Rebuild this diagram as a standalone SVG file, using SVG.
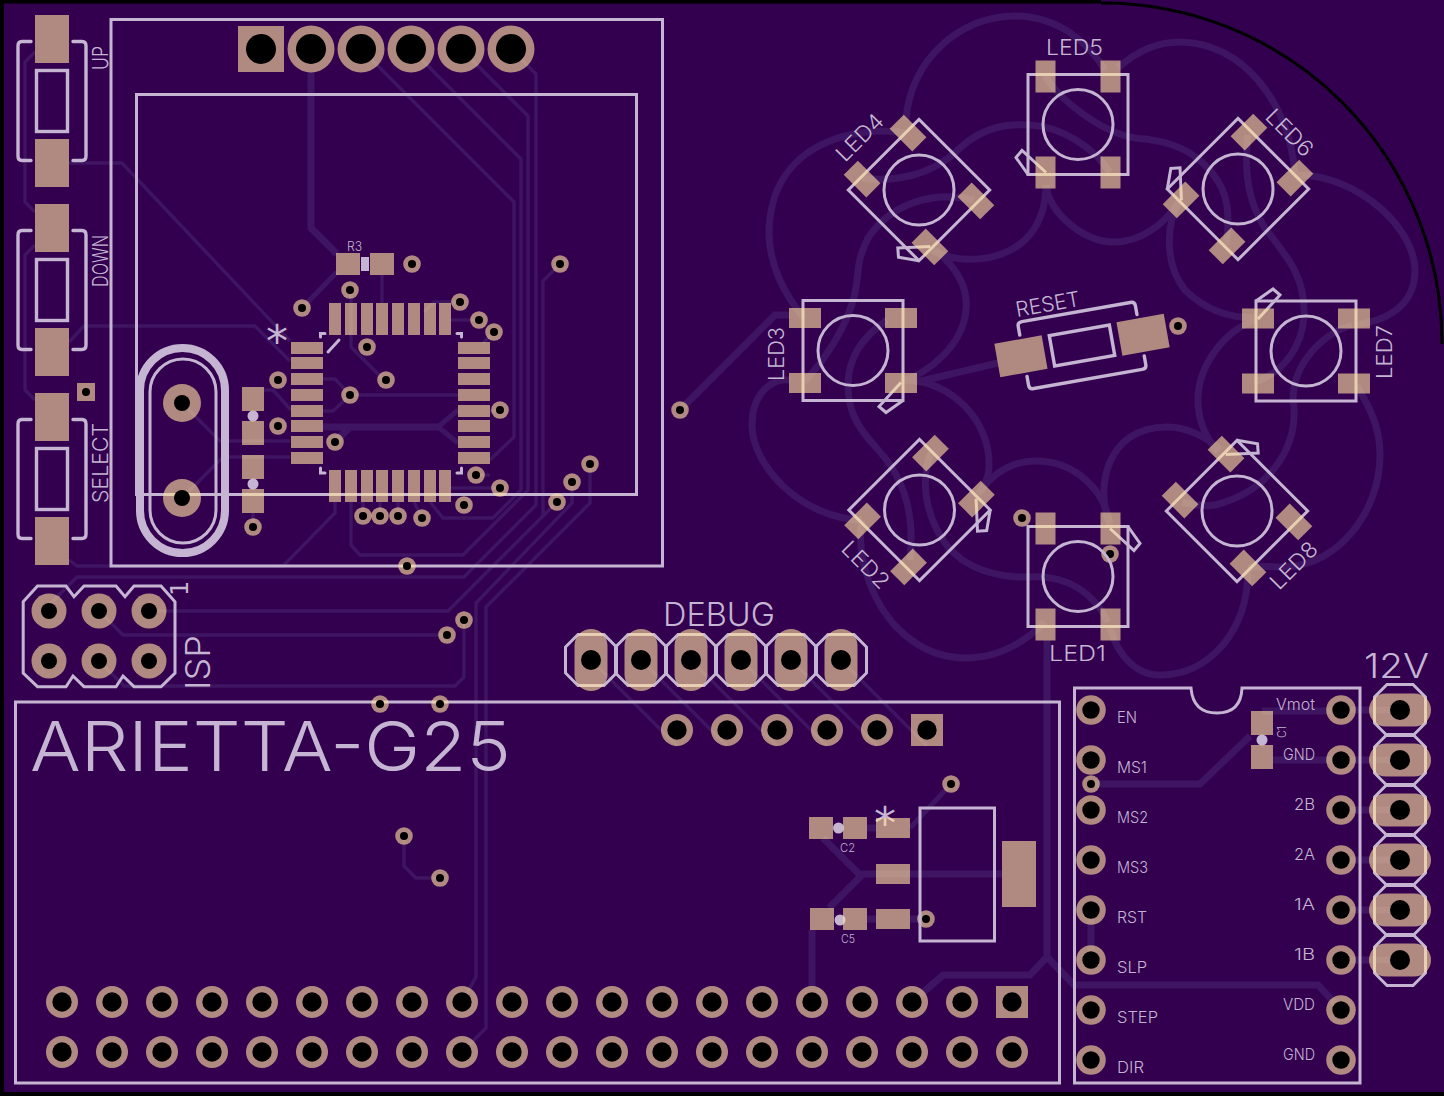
<svg xmlns="http://www.w3.org/2000/svg" xmlns:xlink="http://www.w3.org/1999/xlink" width="1444" height="1096" viewBox="0 0 1444 1096">
<style>
.p{fill:#fdde9e;fill-opacity:.62}
.d{fill:#000}
.s{fill:none;stroke:#c5b5d3;stroke-width:3}
.sf{fill:#c5b5d3}
.tr{fill:none;stroke:#3f1462;stroke-width:3.4}
.tm{fill:none;stroke:#3f1462;stroke-width:5}
.tk{fill:none;stroke:#3f1462;stroke-width:7}
text{font-family:"Inter","Liberation Sans",sans-serif;font-weight:300;fill:#c5b5d3}
.m{font-family:"DejaVu Sans",sans-serif;font-weight:400}
.f16{font-size:16px}.f22{font-size:22px}.f12{font-size:12px}
</style>
<defs>
<g id="v"><circle r="8.8" class="p"/><circle r="4" class="d"/></g>
<g id="pa"><circle r="16" class="p"/><circle r="9.7" class="d"/></g>
<g id="pm"><circle r="14.8" class="p"/><circle r="8.7" class="d"/></g>
<g id="pi"><circle r="17.5" class="p"/><circle r="8" class="d"/></g>
<g id="ph"><circle r="23.5" class="p"/><circle r="15" class="d"/></g>
<rect id="qv" width="12" height="32" class="p"/>
<rect id="qh" width="32" height="12" class="p"/>
<polygon id="oct" class="s" points="-25.5,-13 -13,-25.5 13,-25.5 25.5,-13 25.5,13 13,25.5 -13,25.5 -25.5,13"/>
<g id="sw">
<path class="s" stroke-linecap="round" style="stroke-width:3.4" d="M-21,-59.5H-30Q-34,-59.5 -34,-55V55Q-34,59.5 -30,59.5H-21M21,-59.5H30Q34,-59.5 34,-55V55Q34,59.5 30,59.5H21"/>
<rect class="s" style="stroke-width:3.4" x="-15.5" y="-30.5" width="31" height="61"/>
<rect class="p" x="-17" y="-86" width="34" height="48"/>
<rect class="p" x="-17" y="38" width="34" height="48"/>
</g>
<g id="led">
<rect class="s" x="-50" y="-50" width="100" height="100"/>
<circle class="s" r="35"/>
<path class="s" d="M-50,50L-62,33L-56,26L-32,48"/>
<rect class="p" x="-42.5" y="-64" width="20" height="32"/>
<rect class="p" x="22.5" y="-64" width="20" height="32"/>
<rect class="p" x="-42.5" y="32" width="20" height="32"/>
<rect class="p" x="22.5" y="32" width="20" height="32"/>
</g>
</defs>
<rect id="board" width="1444" height="1096" fill="#32004f"/>
<path id="outline" fill="none" stroke="#000" d="M0,1.5H1101M2,0V1096M0,1094H1444" stroke-width="4"/>
<path id="outline-arc" fill="none" stroke="#000" stroke-width="3" d="M1101,3A340,340 0 0 1 1442,344"/>

<g id="connectors">
<path class="tr" d="M35,52L25,62V202L35,212M35,245L25,255V390L35,400"/>
<path class="tr" d="M69,163H122L290,341M69,342L84,326H255L290,361"/>
<path class="tk" d="M311,72V228L337,254"/>
<path class="tm" d="M337,272L302,308"/>
<path class="tr" d="M361,49L514,202V437L490,460"/>
<path class="tr" d="M411,49L521,159V490L493,518H443L430,502"/>
<path class="tr" d="M461,49L528,116V490L463,555H360L351,545V502"/>
<path class="tr" d="M511,49L536,74V505L464,577H77L49,605"/>
<path class="tr" d="M560,264L543,281V516"/>
<path class="tr" d="M557,502L448,611H149"/>
<path class="tr" d="M590,464V503L486,607V1028L462,1052"/>
<path class="tr" d="M572,482V503L476,603V977L462,1002"/>
<path class="tr" d="M99,661L124,686H455L464,677V620M447,635H123L99,611"/>
<path class="tr" d="M382,275V303M351,290V347L386,382M460,302H434L424,312M451,320H479M494,332L483,343"/>
<path class="tr" d="M323,379H335L350,395H458M323,411H333L350,395M490,411H500M451,488H500M476,475H490"/>
<path class="tk" d="M323,427H438M335,442L350,427"/>
<path class="tm" d="M458,410L438,427L458,443"/>
<path class="tr" d="M264,390H273L291,410M182,403L220,441H290M182,498L223,457H290"/>
<path class="tr" d="M69,560L77,566H283L335,513V502"/>
<path class="tr" d="M253,513V527M363,502V516M380,502V516M398,502V516M414,502L422,518"/>
<path class="tr" d="M404,836V866L416,878H440"/>
<path class="tr" d="M591,660L677,746M641,660L727,746M691,660L777,746M741,660L827,746M791,660L877,746M841,660L927,746"/>
<path class="tk" d="M812,987V930"/>
<path class="tk" d="M867,828H876M867,919H876M910,919H926"/>
<path class="tm" d="M910,828L951,784"/>
<path class="tk" d="M876,874H1002M823,838L859,874H876M829,908L863,874"/>
<path class="tk" d="M1091,910V960"/>
<path class="tk" d="M1091,784H1200L1250,736"/>
<path class="tk" d="M1262,711H1341M1273,760H1341"/>
<path class="tk" d="M1341,710H1400M1341,760H1400M1341,810H1400M1341,860H1400M1341,910H1400M1341,960H1400"/>
<path class="tk" d="M1047,640V957L1030,975H943L912,1002M1047,957L1074,985H1318L1341,1010"/>
<path class="tk" d="M680,410L775,315H790"/>
<path class="tk" d="M917,382L998,363"/>
<path class="tk" d="M906,120C910,60 960,16 1015,16C1060,16 1090,45 1105,70"/>
<path class="tk" d="M1118,68C1140,48 1160,42 1180,42C1240,42 1290,100 1295,175"/>
<path class="tk" d="M1045,76C1060,100 1100,132 1135,138C1160,140 1185,145 1205,165C1225,185 1232,205 1226,245"/>
<path class="tk" d="M905,133C860,125 770,140 769,233C769,265 785,295 803,317"/>
<path class="tk" d="M862,178C890,182 930,178 960,148C985,125 1010,124 1030,125C1065,127 1095,150 1110,172"/>
<path class="tk" d="M932,250C960,265 1000,262 1025,240C1040,225 1046,205 1046,185"/>
<path class="tk" d="M1046,185C1050,215 1085,242 1114,242C1140,242 1165,225 1180,200"/>
<path class="tk" d="M974,200C930,190 890,205 868,238C855,265 860,270 855,293C848,325 825,360 804,382"/>
<path class="tk" d="M935,250C960,270 968,290 966,310C963,345 930,372 901,382"/>
<path class="tk" d="M905,380C950,380 990,420 989,465C989,475 985,485 980,492"/>
<path class="tk" d="M790,380C770,378 752,395 752,425C752,465 800,518 862,520"/>
<path class="tk" d="M887,320C865,335 848,355 848,385C848,415 860,430 880,452C905,480 915,515 910,560"/>
<path class="tk" d="M931,452C922,475 922,510 945,543C965,570 1000,578 1030,577C1070,575 1095,595 1108,622"/>
<path class="tk" d="M862,520C855,560 875,610 905,635C925,652 945,658 965,658C1000,658 1025,642 1045,622"/>
<path class="tk" d="M978,494C995,470 1015,461 1036,461C1075,461 1105,490 1110,525"/>
<path class="tk" d="M1110,525C1095,490 1105,427 1167,427C1185,427 1205,435 1220,450"/>
<path class="tk" d="M1110,628C1118,655 1135,675 1160,675C1210,675 1248,630 1248,570"/>
<path class="tk" d="M1180,200C1165,225 1165,265 1185,290C1205,310 1230,318 1256,318"/>
<path class="tk" d="M1297,175C1360,175 1415,230 1415,270C1415,300 1395,320 1354,325"/>
<path class="tk" d="M1248,135C1243,175 1250,205 1265,228C1285,255 1306,275 1304,317C1302,345 1285,372 1255,382"/>
<path class="tk" d="M1256,320C1225,330 1198,365 1198,400C1198,420 1205,437 1218,452"/>
<path class="tk" d="M1352,325C1320,335 1293,365 1293,400C1300,440 1275,490 1215,505C1205,507 1195,505 1182,502"/>
<path class="tk" d="M1356,385C1372,410 1380,430 1380,455C1380,510 1340,565 1285,567C1270,567 1260,565 1248,568"/>
</g>

<g id="frames">
<rect class="s" x="111" y="19.5" width="551.5" height="546.5"/>
<rect class="s" x="136.5" y="94.5" width="500" height="400"/>
<rect class="s" x="15.5" y="702" width="1044" height="381"/>
<path class="s" d="M1074.5,688H1191Q1193,713 1217,713Q1241,713 1242,688H1360V1083H1074.5Z"/>
</g>

<g id="switch-up"><use xlink:href="#sw" transform="translate(52,101)"/><text class="f22" transform="translate(108,70) rotate(-90)" textLength="24" lengthAdjust="spacingAndGlyphs">UP</text></g>
<g id="switch-down"><use xlink:href="#sw" transform="translate(52,290)"/><text class="f22" transform="translate(108,287) rotate(-90)" textLength="52" lengthAdjust="spacingAndGlyphs">DOWN</text></g>
<g id="switch-select"><use xlink:href="#sw" transform="translate(52,479)"/><text class="f22" transform="translate(108,503) rotate(-90)" textLength="80" lengthAdjust="spacingAndGlyphs">SELECT</text></g>
<g id="test-pad"><rect class="p" x="77" y="383" width="18" height="18"/><circle cx="86" cy="392" r="4" class="d"/></g>

<g id="header-top">
<rect class="p" x="238" y="26" width="46" height="46"/><circle cx="261" cy="49" r="15" class="d"/>
<use xlink:href="#ph" x="311" y="49"/><use xlink:href="#ph" x="361" y="49"/><use xlink:href="#ph" x="411" y="49"/><use xlink:href="#ph" x="461" y="49"/><use xlink:href="#ph" x="511" y="49"/>
</g>

<g id="r3">
<text x="347" y="251" font-size="13" textLength="15" lengthAdjust="spacingAndGlyphs">R3</text>
<rect class="sf" x="361" y="257" width="8" height="14"/>
<rect class="p" x="336" y="253" width="24" height="22"/><rect class="p" x="370" y="253" width="24" height="22"/>
</g>

<g id="qfp">
<text class="m" x="277" y="357" font-size="44" text-anchor="middle">*</text>
<path class="s" d="M320.500,337V333.500H325M457,333.500H461.500V337M320.500,468V473H325M461.500,468V473H457M328,352L339,340" stroke-linecap="round"/>
<use xlink:href="#qv" x="329" y="303"/><use xlink:href="#qv" x="345" y="303"/><use xlink:href="#qv" x="361" y="303"/><use xlink:href="#qv" x="376" y="303"/><use xlink:href="#qv" x="392" y="303"/><use xlink:href="#qv" x="408" y="303"/><use xlink:href="#qv" x="424" y="303"/><use xlink:href="#qv" x="439" y="303"/>
<use xlink:href="#qv" x="329" y="470"/><use xlink:href="#qv" x="345" y="470"/><use xlink:href="#qv" x="361" y="470"/><use xlink:href="#qv" x="376" y="470"/><use xlink:href="#qv" x="392" y="470"/><use xlink:href="#qv" x="408" y="470"/><use xlink:href="#qv" x="424" y="470"/><use xlink:href="#qv" x="439" y="470"/>
<use xlink:href="#qh" x="291" y="342"/><use xlink:href="#qh" x="291" y="357"/><use xlink:href="#qh" x="291" y="373"/><use xlink:href="#qh" x="291" y="389"/><use xlink:href="#qh" x="291" y="405"/><use xlink:href="#qh" x="291" y="420"/><use xlink:href="#qh" x="291" y="436"/><use xlink:href="#qh" x="291" y="452"/>
<use xlink:href="#qh" x="458" y="342"/><use xlink:href="#qh" x="458" y="357"/><use xlink:href="#qh" x="458" y="373"/><use xlink:href="#qh" x="458" y="389"/><use xlink:href="#qh" x="458" y="405"/><use xlink:href="#qh" x="458" y="420"/><use xlink:href="#qh" x="458" y="436"/><use xlink:href="#qh" x="458" y="452"/>
</g>

<g id="crystal">
<rect class="s" style="stroke-width:8" x="140" y="348" width="85" height="205" rx="42.500"/>
<rect class="s" style="stroke-width:3" x="150" y="359" width="66" height="184" rx="33"/>
<circle cx="182" cy="403" r="19" class="p"/><circle cx="182" cy="403" r="8" class="d"/>
<circle cx="182" cy="498" r="19" class="p"/><circle cx="182" cy="498" r="8" class="d"/>
</g>

<g id="crystal-caps">
<circle class="sf" cx="253" cy="416" r="5.5"/><circle class="sf" cx="253" cy="484" r="5.5"/>
<rect class="p" x="242" y="387" width="22" height="24"/><rect class="p" x="242" y="421" width="22" height="24"/>
<rect class="p" x="242" y="455" width="22" height="24"/><rect class="p" x="242" y="489" width="22" height="24"/>
</g>

<g id="vias">
<use xlink:href="#v" x="412" y="264"/><use xlink:href="#v" x="350" y="290"/><use xlink:href="#v" x="302" y="308"/><use xlink:href="#v" x="460" y="302"/><use xlink:href="#v" x="479" y="320"/><use xlink:href="#v" x="494" y="332"/><use xlink:href="#v" x="367" y="347"/><use xlink:href="#v" x="386" y="380"/><use xlink:href="#v" x="278" y="380"/><use xlink:href="#v" x="350" y="395"/><use xlink:href="#v" x="278" y="426"/><use xlink:href="#v" x="500" y="410"/><use xlink:href="#v" x="335" y="442"/><use xlink:href="#v" x="476" y="475"/><use xlink:href="#v" x="500" y="488"/><use xlink:href="#v" x="464" y="505"/><use xlink:href="#v" x="363" y="516"/><use xlink:href="#v" x="380" y="516"/><use xlink:href="#v" x="398" y="516"/><use xlink:href="#v" x="422" y="518"/><use xlink:href="#v" x="253" y="527"/><use xlink:href="#v" x="407" y="566"/>
<use xlink:href="#v" x="560" y="264"/><use xlink:href="#v" x="680" y="410"/><use xlink:href="#v" x="572" y="482"/><use xlink:href="#v" x="590" y="464"/><use xlink:href="#v" x="557" y="502"/><use xlink:href="#v" x="464" y="620"/><use xlink:href="#v" x="447" y="635"/><use xlink:href="#v" x="380" y="704"/><use xlink:href="#v" x="440" y="704"/><use xlink:href="#v" x="404" y="836"/><use xlink:href="#v" x="440" y="878"/><use xlink:href="#v" x="951" y="784"/><use xlink:href="#v" x="926" y="919"/><use xlink:href="#v" x="1091" y="784"/><use xlink:href="#v" x="1022" y="518"/><use xlink:href="#v" x="1110" y="554"/><use xlink:href="#v" x="1178" y="326"/>
</g>

<g id="isp">
<polygon class="s" points="23.200,601.700 37.500,586 66,586 74,596.700 84,586 116,586 125,596.700 134,586 161,586 175,601.700 175,673 161,686.700 134,686.700 123,676 116,686.700 84,686.700 73,676 66,686.700 37.500,686.700 23.200,673"/>
<text class="m" transform="translate(188,596) rotate(-90)" font-size="24" style="font-weight:400">1</text>
<text transform="translate(210,690) rotate(-90)" font-size="34" textLength="55" lengthAdjust="spacingAndGlyphs">ISP</text>
<use xlink:href="#pi" x="49" y="611"/><use xlink:href="#pi" x="99" y="611"/><use xlink:href="#pi" x="149" y="611"/><use xlink:href="#pi" x="49" y="661"/><use xlink:href="#pi" x="99" y="661"/><use xlink:href="#pi" x="149" y="661"/>
</g>

<g id="debug">
<text x="663" y="626" font-size="33" textLength="112" lengthAdjust="spacingAndGlyphs">DEBUG</text>
<use xlink:href="#oct" x="591" y="660"/><use xlink:href="#oct" x="641" y="660"/><use xlink:href="#oct" x="691" y="660"/><use xlink:href="#oct" x="741" y="660"/><use xlink:href="#oct" x="791" y="660"/><use xlink:href="#oct" x="841" y="660"/>
<rect class="p" x="574.500" y="629" width="33" height="62" rx="16.500"/><rect class="p" x="624.500" y="629" width="33" height="62" rx="16.500"/><rect class="p" x="674.500" y="629" width="33" height="62" rx="16.500"/><rect class="p" x="724.500" y="629" width="33" height="62" rx="16.500"/><rect class="p" x="774.500" y="629" width="33" height="62" rx="16.500"/><rect class="p" x="824.500" y="629" width="33" height="62" rx="16.500"/>
<circle class="d" cx="591" cy="660" r="10"/><circle class="d" cx="641" cy="660" r="10"/><circle class="d" cx="691" cy="660" r="10"/><circle class="d" cx="741" cy="660" r="10"/><circle class="d" cx="791" cy="660" r="10"/><circle class="d" cx="841" cy="660" r="10"/>
</g>

<g id="terminal-12v">
<text x="1364" y="678" font-size="34" textLength="65" lengthAdjust="spacingAndGlyphs">12V</text>
<use xlink:href="#oct" x="1400" y="710"/><use xlink:href="#oct" x="1400" y="760"/><use xlink:href="#oct" x="1400" y="810"/><use xlink:href="#oct" x="1400" y="860"/><use xlink:href="#oct" x="1400" y="910"/><use xlink:href="#oct" x="1400" y="960"/>
<rect class="p" x="1369" y="693.500" width="62" height="33" rx="16.500"/><rect class="p" x="1369" y="743.500" width="62" height="33" rx="16.500"/><rect class="p" x="1369" y="793.500" width="62" height="33" rx="16.500"/><rect class="p" x="1369" y="843.500" width="62" height="33" rx="16.500"/><rect class="p" x="1369" y="893.500" width="62" height="33" rx="16.500"/><rect class="p" x="1369" y="943.500" width="62" height="33" rx="16.500"/>
<circle class="d" cx="1400" cy="710" r="10"/><circle class="d" cx="1400" cy="760" r="10"/><circle class="d" cx="1400" cy="810" r="10"/><circle class="d" cx="1400" cy="860" r="10"/><circle class="d" cx="1400" cy="910" r="10"/><circle class="d" cx="1400" cy="960" r="10"/>
</g>

<g id="arietta">
<text x="30" y="771" font-size="68" textLength="481" lengthAdjust="spacingAndGlyphs">ARIETTA-G25</text>
<use xlink:href="#pa" x="677" y="730"/><use xlink:href="#pa" x="727" y="730"/><use xlink:href="#pa" x="777" y="730"/><use xlink:href="#pa" x="827" y="730"/><use xlink:href="#pa" x="877" y="730"/>
<rect class="p" x="911" y="714" width="32" height="32"/><circle class="d" cx="927" cy="730" r="9.700"/>
<use xlink:href="#pa" x="62" y="1002"/><use xlink:href="#pa" x="112" y="1002"/><use xlink:href="#pa" x="162" y="1002"/><use xlink:href="#pa" x="212" y="1002"/><use xlink:href="#pa" x="262" y="1002"/><use xlink:href="#pa" x="312" y="1002"/><use xlink:href="#pa" x="362" y="1002"/><use xlink:href="#pa" x="412" y="1002"/><use xlink:href="#pa" x="462" y="1002"/><use xlink:href="#pa" x="512" y="1002"/><use xlink:href="#pa" x="562" y="1002"/><use xlink:href="#pa" x="612" y="1002"/><use xlink:href="#pa" x="662" y="1002"/><use xlink:href="#pa" x="712" y="1002"/><use xlink:href="#pa" x="762" y="1002"/><use xlink:href="#pa" x="812" y="1002"/><use xlink:href="#pa" x="862" y="1002"/><use xlink:href="#pa" x="912" y="1002"/><use xlink:href="#pa" x="962" y="1002"/>
<rect class="p" x="996" y="986" width="32" height="32"/><circle class="d" cx="1012" cy="1002" r="9.700"/>
<use xlink:href="#pa" x="62" y="1052"/><use xlink:href="#pa" x="112" y="1052"/><use xlink:href="#pa" x="162" y="1052"/><use xlink:href="#pa" x="212" y="1052"/><use xlink:href="#pa" x="262" y="1052"/><use xlink:href="#pa" x="312" y="1052"/><use xlink:href="#pa" x="362" y="1052"/><use xlink:href="#pa" x="412" y="1052"/><use xlink:href="#pa" x="462" y="1052"/><use xlink:href="#pa" x="512" y="1052"/><use xlink:href="#pa" x="562" y="1052"/><use xlink:href="#pa" x="612" y="1052"/><use xlink:href="#pa" x="662" y="1052"/><use xlink:href="#pa" x="712" y="1052"/><use xlink:href="#pa" x="762" y="1052"/><use xlink:href="#pa" x="812" y="1052"/><use xlink:href="#pa" x="862" y="1052"/><use xlink:href="#pa" x="912" y="1052"/><use xlink:href="#pa" x="962" y="1052"/><use xlink:href="#pa" x="1012" y="1052"/>
</g>

<g id="regulator">
<rect class="s" x="920" y="808" width="74.500" height="133"/>
<text class="m" x="885" y="839" font-size="44" text-anchor="middle">*</text>
<rect class="p" x="876" y="818" width="34" height="20"/><rect class="p" x="876" y="864" width="34" height="20"/><rect class="p" x="876" y="909" width="34" height="20"/>
<rect class="p" x="1002" y="841" width="34" height="66"/>
</g>
<g id="c2">
<circle class="sf" cx="838.500" cy="828" r="5.500"/>
<rect class="p" x="809" y="817" width="24" height="22"/><rect class="p" x="843" y="817" width="24" height="22"/>
<text class="f12" x="840" y="852" textLength="15" lengthAdjust="spacingAndGlyphs">C2</text>
</g>
<g id="c5">
<circle class="sf" cx="840" cy="920" r="5.500"/>
<rect class="p" x="810" y="908" width="24" height="22"/><rect class="p" x="843" y="908" width="24" height="22"/>
<text class="f12" x="841" y="943" textLength="14" lengthAdjust="spacingAndGlyphs">C5</text>
</g>
<g id="c1">
<circle class="sf" cx="1262" cy="740" r="5.500"/>
<rect class="p" x="1251" y="711" width="22" height="24"/><rect class="p" x="1251" y="745" width="22" height="24"/>
<text class="f12" transform="translate(1286,738) rotate(-90)" textLength="12" lengthAdjust="spacingAndGlyphs">C1</text>
</g>

<g id="stepper-driver">
<use xlink:href="#pm" x="1091" y="710"/><use xlink:href="#pm" x="1091" y="760"/><use xlink:href="#pm" x="1091" y="810"/><use xlink:href="#pm" x="1091" y="860"/><use xlink:href="#pm" x="1091" y="910"/><use xlink:href="#pm" x="1091" y="960"/><use xlink:href="#pm" x="1091" y="1010"/><use xlink:href="#pm" x="1091" y="1060"/>
<use xlink:href="#pm" x="1341" y="710"/><use xlink:href="#pm" x="1341" y="760"/><use xlink:href="#pm" x="1341" y="810"/><use xlink:href="#pm" x="1341" y="860"/><use xlink:href="#pm" x="1341" y="910"/><use xlink:href="#pm" x="1341" y="960"/><use xlink:href="#pm" x="1341" y="1010"/><use xlink:href="#pm" x="1341" y="1060"/>
<text class="f16" x="1117" y="723" textLength="20" lengthAdjust="spacingAndGlyphs">EN</text>
<text class="f16" x="1117" y="773" textLength="30" lengthAdjust="spacingAndGlyphs">MS1</text>
<text class="f16" x="1117" y="823" textLength="31" lengthAdjust="spacingAndGlyphs">MS2</text>
<text class="f16" x="1117" y="873" textLength="31" lengthAdjust="spacingAndGlyphs">MS3</text>
<text class="f16" x="1117" y="923" textLength="30" lengthAdjust="spacingAndGlyphs">RST</text>
<text class="f16" x="1117" y="973" textLength="30" lengthAdjust="spacingAndGlyphs">SLP</text>
<text class="f16" x="1117" y="1023" textLength="41" lengthAdjust="spacingAndGlyphs">STEP</text>
<text class="f16" x="1117" y="1073" textLength="27" lengthAdjust="spacingAndGlyphs">DIR</text>
<text class="f16" x="1276" y="710" textLength="39" lengthAdjust="spacingAndGlyphs">Vmot</text>
<text class="f16" x="1283" y="760" textLength="32" lengthAdjust="spacingAndGlyphs">GND</text>
<text class="f16" x="1294" y="810" textLength="21" lengthAdjust="spacingAndGlyphs">2B</text>
<text class="f16" x="1294" y="860" textLength="21" lengthAdjust="spacingAndGlyphs">2A</text>
<text class="f16" x="1294" y="910" textLength="21" lengthAdjust="spacingAndGlyphs">1A</text>
<text class="f16" x="1294" y="960" textLength="21" lengthAdjust="spacingAndGlyphs">1B</text>
<text class="f16" x="1283" y="1010" textLength="32" lengthAdjust="spacingAndGlyphs">VDD</text>
<text class="f16" x="1283" y="1060" textLength="32" lengthAdjust="spacingAndGlyphs">GND</text>
</g>

<g id="LED5"><use xlink:href="#led" transform="translate(1078,124.500)"/><text class="f22" x="1046" y="55" textLength="57" lengthAdjust="spacingAndGlyphs">LED5</text></g>
<g id="LED4"><use xlink:href="#led" transform="translate(919,190) rotate(-45)"/><text class="f22" transform="translate(845,163) rotate(-45)" textLength="57" lengthAdjust="spacingAndGlyphs">LED4</text></g>
<g id="LED6"><use xlink:href="#led" transform="translate(1238,189) rotate(45)"/><text class="f22" transform="translate(1264,118) rotate(45)" textLength="57" lengthAdjust="spacingAndGlyphs">LED6</text></g>
<g id="LED3"><use xlink:href="#led" transform="translate(853,350.500) rotate(-90)"/><text class="f22" transform="translate(784,381) rotate(-90)" textLength="54" lengthAdjust="spacingAndGlyphs">LED3</text></g>
<g id="LED7"><use xlink:href="#led" transform="translate(1306,351) rotate(90)"/><text class="f22" transform="translate(1392,379) rotate(-90)" textLength="54" lengthAdjust="spacingAndGlyphs">LED7</text></g>
<g id="LED2"><use xlink:href="#led" transform="translate(919.500,510) rotate(-135)"/><text class="f22" transform="translate(840,550) rotate(45)" textLength="57" lengthAdjust="spacingAndGlyphs">LED2</text></g>
<g id="LED8"><use xlink:href="#led" transform="translate(1237,511) rotate(135)"/><text class="f22" transform="translate(1279,591) rotate(-45)" textLength="57" lengthAdjust="spacingAndGlyphs">LED8</text></g>
<g id="LED1"><use xlink:href="#led" transform="translate(1078,576.500) rotate(180)"/><text class="f22" x="1049" y="661" textLength="57" lengthAdjust="spacingAndGlyphs">LED1</text></g>
<g id="reset"><use xlink:href="#sw" transform="translate(1082,345.500) rotate(80)"/><text transform="translate(1017,317) rotate(-10)" font-size="21" textLength="65" lengthAdjust="spacingAndGlyphs">RESET</text></g>
</svg>
